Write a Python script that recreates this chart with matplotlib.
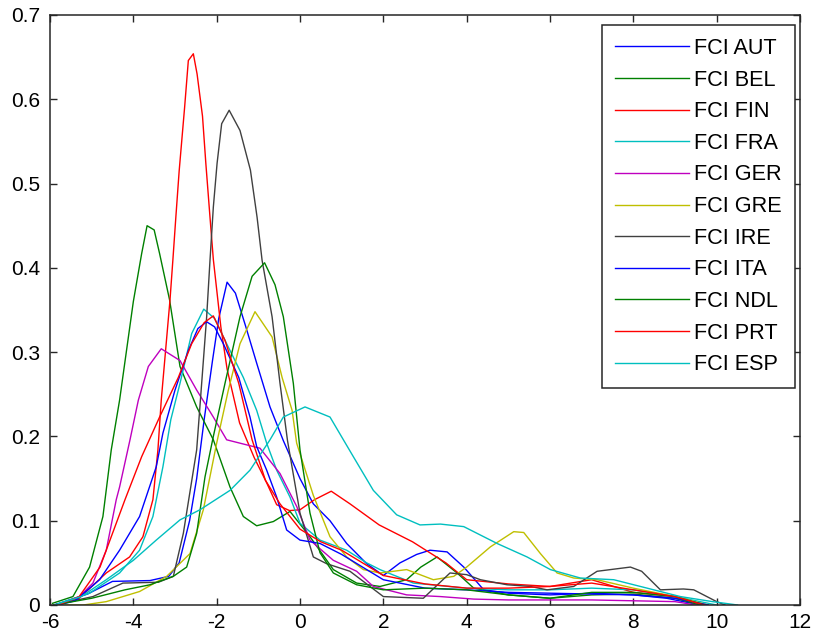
import matplotlib
matplotlib.use('Agg')
import matplotlib.pyplot as plt

# density estimates of the FCI per country
aut_x = [-5.9, -5.1, -4.5, -3.6, -3.15, -2.9, -2.65, -2.48, -2.3, -2.1, -1.95, -1.75, -1.55, -1.3, -1.04, -0.72, -0.4,
         0.0, 0.32, 0.72, 1.12, 1.6, 2.0, 2.4, 2.8, 3.12, 3.53, 3.93, 4.41, 5.0, 6.0, 7.0, 8.0, 8.8, 9.6]
aut_y = [0.0, 0.013, 0.028, 0.029, 0.034, 0.05, 0.1, 0.15, 0.22, 0.29, 0.34, 0.383, 0.37, 0.33, 0.287, 0.235, 0.195,
         0.15, 0.12, 0.1, 0.073, 0.049, 0.035, 0.05, 0.06, 0.065, 0.063, 0.045, 0.018, 0.014, 0.012, 0.014, 0.012, 0.008, 0.0]

bel_x = [-5.94, -5.45, -5.05, -4.73, -4.53, -4.33, -4.0, -3.8, -3.67, -3.5, -3.37, -3.13, -2.88, -2.48, -2.08, -1.68,
         -1.36, -1.04, -0.64, -0.24, 0.24, 0.8, 1.36, 1.92, 2.56, 2.9, 3.29, 3.77, 4.17, 5.0, 6.0, 7.0, 8.0, 9.0, 9.6]
bel_y = [0.002, 0.01, 0.045, 0.105, 0.184, 0.243, 0.36, 0.417, 0.45, 0.445, 0.417, 0.362, 0.283, 0.235, 0.196, 0.14,
         0.105, 0.094, 0.099, 0.111, 0.081, 0.042, 0.026, 0.022, 0.03, 0.045, 0.057, 0.038, 0.02, 0.012, 0.008, 0.012, 0.013, 0.008, 0.0]

fin_x = [-5.8, -5.3, -4.65, -4.09, -3.77, -3.53, -3.41, -3.33, -3.12, -3.05, -2.98, -2.9, -2.77, -2.68, -2.56, -2.47,
         -2.34, -2.26, -2.16, -2.08, -1.9, -1.75, -1.45, -1.1, -0.8, -0.56, -0.25, 0.0, 0.35, 0.75, 1.2, 1.9, 2.7, 3.5,
         4.0, 5.0, 6.0, 7.0, 8.0, 9.0, 9.7]
fin_y = [0.0, 0.008, 0.038, 0.057, 0.081, 0.125, 0.184, 0.243, 0.362, 0.41, 0.46, 0.515, 0.59, 0.646, 0.654, 0.63,
         0.58, 0.524, 0.46, 0.41, 0.33, 0.28, 0.216, 0.175, 0.145, 0.119, 0.112, 0.113, 0.125, 0.135, 0.12, 0.095, 0.075, 0.05,
         0.03, 0.025, 0.022, 0.03, 0.015, 0.01, 0.0]

fra_x = [-5.9, -5.05, -4.33, -3.85, -3.53, -3.29, -3.1, -2.88, -2.6, -2.31, -2.05, -1.76, -1.36, -1.04, -0.8, -0.56,
         -0.24, 0.0, 0.48, 1.12, 1.6, 1.92, 2.72, 4.0, 5.0, 6.0, 7.0, 8.0, 9.0, 10.0]
fra_y = [0.0, 0.014, 0.038, 0.065, 0.105, 0.164, 0.22, 0.263, 0.322, 0.351, 0.34, 0.31, 0.27, 0.231, 0.192, 0.16,
         0.128, 0.097, 0.077, 0.065, 0.05, 0.042, 0.026, 0.02, 0.018, 0.018, 0.02, 0.018, 0.01, 0.0]

ger_x = [-5.9, -5.37, -4.97, -4.65, -4.41, -4.33, -4.08, -3.88, -3.64, -3.33, -2.88, -2.48, -2.08, -1.76, -1.28, -0.96,
         -0.48, -0.08, 0.24, 0.8, 1.36, 1.76, 2.56, 3.37, 4.17, 5.0, 6.0, 7.0, 8.0, 9.0, 9.5]
ger_y = [0.0, 0.006, 0.026, 0.065, 0.125, 0.14, 0.196, 0.243, 0.283, 0.304, 0.29, 0.255, 0.223, 0.196, 0.19, 0.186,
         0.156, 0.117, 0.077, 0.053, 0.04, 0.022, 0.012, 0.01, 0.007, 0.006, 0.006, 0.006, 0.005, 0.004, 0.0]

gre_x = [-5.9, -5.2, -4.65, -3.85, -3.2, -2.64, -2.32, -2.0, -1.72, -1.44, -1.08, -0.67, -0.43, -0.19, -0.08, 0.32,
         0.72, 1.12, 1.52, 1.92, 2.56, 3.2, 3.69, 4.0, 4.57, 5.13, 5.37, 5.77, 6.17, 6.57, 7.13, 8.0, 9.0, 9.8]
gre_y = [0.0, 0.0, 0.004, 0.016, 0.034, 0.061, 0.113, 0.192, 0.255, 0.31, 0.348, 0.318, 0.27, 0.231, 0.192, 0.13,
         0.081, 0.057, 0.042, 0.038, 0.042, 0.03, 0.034, 0.045, 0.069, 0.087, 0.086, 0.061, 0.038, 0.032, 0.03, 0.02, 0.01, 0.0]

ire_x = [-5.9, -4.97, -4.25, -3.4, -3.04, -2.8, -2.48, -2.24, -2.16, -2.08, -1.99, -1.88, -1.7, -1.44, -1.19, -1.03,
         -0.91, -0.67, -0.48, -0.3, 0.0, 0.32, 0.64, 1.2, 2.0, 2.96, 3.6, 4.0, 4.33, 4.97, 5.53, 5.93, 6.57, 7.13, 7.93,
         8.2, 8.65, 9.2, 9.45, 10.0, 10.2]
ire_y = [0.0, 0.01, 0.026, 0.027, 0.034, 0.085, 0.184, 0.342, 0.409, 0.472, 0.524, 0.571, 0.587, 0.563, 0.516, 0.46,
         0.409, 0.342, 0.263, 0.195, 0.109, 0.057, 0.049, 0.04, 0.01, 0.008, 0.038, 0.036, 0.03, 0.024, 0.022, 0.018, 0.022, 0.04, 0.045,
         0.04, 0.018, 0.019, 0.018, 0.004, 0.0]

ita_x = [-5.8, -5.4, -4.81, -4.33, -3.85, -3.45, -3.29, -3.0, -2.68, -2.45, -2.24, -2.05, -1.84, -1.47, -1.2, -1.04,
         -0.8, -0.56, -0.32, 0.0, 0.48, 1.0, 1.5, 2.0, 3.0, 4.0, 5.0, 6.0, 7.0, 8.0, 9.0, 9.8]
ita_y = [0.0, 0.005, 0.03, 0.065, 0.105, 0.164, 0.204, 0.255, 0.302, 0.328, 0.336, 0.33, 0.31, 0.27, 0.223, 0.188,
         0.16, 0.128, 0.089, 0.077, 0.073, 0.06, 0.045, 0.03, 0.02, 0.018, 0.015, 0.014, 0.013, 0.012, 0.008, 0.0]

ndl_x = [-5.9, -5.0, -4.2, -3.6, -3.04, -2.72, -2.48, -2.28, -2.08, -1.8, -1.44, -1.15, -0.85, -0.6, -0.4, -0.16,
         0.0, 0.24, 0.48, 0.8, 1.36, 2.0, 3.0, 4.0, 5.0, 6.0, 7.0, 8.0, 9.0, 9.7]
ndl_y = [0.0, 0.008, 0.018, 0.024, 0.034, 0.045, 0.085, 0.152, 0.2, 0.263, 0.342, 0.39, 0.406, 0.38, 0.342, 0.263,
         0.184, 0.109, 0.062, 0.038, 0.024, 0.018, 0.02, 0.018, 0.012, 0.008, 0.015, 0.015, 0.01, 0.0]

prt_x = [-5.8, -5.3, -4.8, -4.2, -3.8, -3.37, -2.92, -2.6, -2.3, -2.08, -1.8, -1.47, -1.15, -0.83, -0.48, 0.0, 0.5,
         1.0, 1.5, 2.0, 3.0, 4.0, 5.0, 6.0, 7.0, 8.0, 9.0, 9.7]
prt_y = [0.0, 0.01, 0.045, 0.125, 0.176, 0.223, 0.27, 0.31, 0.335, 0.343, 0.314, 0.263, 0.196, 0.148, 0.12, 0.09, 0.075,
         0.065, 0.05, 0.035, 0.025, 0.02, 0.02, 0.022, 0.026, 0.018, 0.01, 0.0]

esp_x = [-5.9, -5.25, -4.65, -4.0, -3.45, -2.88, -2.4, -1.68, -1.2, -0.72, -0.4, 0.12, 0.72, 1.28, 1.76, 2.32, 2.88,
         3.37, 3.93, 4.73, 5.45, 6.01, 6.73, 7.53, 8.33, 9.13, 9.9, 10.5]
esp_y = [0.0, 0.01, 0.03, 0.053, 0.077, 0.101, 0.113, 0.136, 0.16, 0.196, 0.223, 0.235, 0.223, 0.176, 0.136, 0.107, 0.095,
         0.096, 0.093, 0.073, 0.057, 0.042, 0.032, 0.03, 0.02, 0.01, 0.004, 0.0]

labels = ['FCI AUT', 'FCI BEL', 'FCI FIN', 'FCI FRA', 'FCI GER', 'FCI GRE',
          'FCI IRE', 'FCI ITA', 'FCI NDL', 'FCI PRT', 'FCI ESP']
xticks = [-6, -4, -2, 0, 2, 4, 6, 8, 10, 12]
yticks = [0, 0.1, 0.2, 0.3, 0.4, 0.5, 0.6, 0.7]
ytick_labels = ['0', '0.1', '0.2', '0.3', '0.4', '0.5', '0.6', '0.7']

series = [(aut_x, aut_y), (bel_x, bel_y), (fin_x, fin_y), (fra_x, fra_y), (ger_x, ger_y), (gre_x, gre_y),
          (ire_x, ire_y), (ita_x, ita_y), (ndl_x, ndl_y), (prt_x, prt_y), (esp_x, esp_y)]
# old matlab line colour order
colors = ['#0000ff', '#008000', '#ff0000', '#00bfbf', '#bf00bf', '#bfbf00', '#404040',
          '#0000ff', '#008000', '#ff0000', '#00bfbf']

plt.rcParams['font.family'] = ['Liberation Sans', 'DejaVu Sans']

fig = plt.figure(figsize=(8.15, 6.39), dpi=100)
ax = fig.add_axes([50 / 815, 34 / 639, 750 / 815, 590 / 639])

for (xs, ys), c, lab in zip(series, colors, labels):
    ax.plot(xs, ys, color=c, lw=1.0, label=lab)

ax.set_xlim(-6, 12)
ax.set_ylim(0, 0.7)
ax.set_xticks(xticks)
ax.set_xticklabels([str(t) for t in xticks])
ax.set_yticks(yticks)
ax.set_yticklabels(ytick_labels)
ax.tick_params(direction='in', length=5, width=1.0, top=True, right=True, labelsize=15, color='#262626')
ax.tick_params(axis='x', pad=6)
ax.tick_params(axis='y', pad=7)
for s in ax.spines.values():
    s.set_linewidth(1.1)
    s.set_color('#262626')

leg = ax.legend(loc='upper right', bbox_to_anchor=(745 / 750, 580 / 590), borderaxespad=0,
                prop={'size': 15.6}, handlelength=3.4, handletextpad=0.25, labelspacing=0.49,
                fancybox=False, framealpha=1, edgecolor='#262626', borderpad=0.6)
leg.get_frame().set_linewidth(1.1)

fig.savefig('out.png', dpi=100)
